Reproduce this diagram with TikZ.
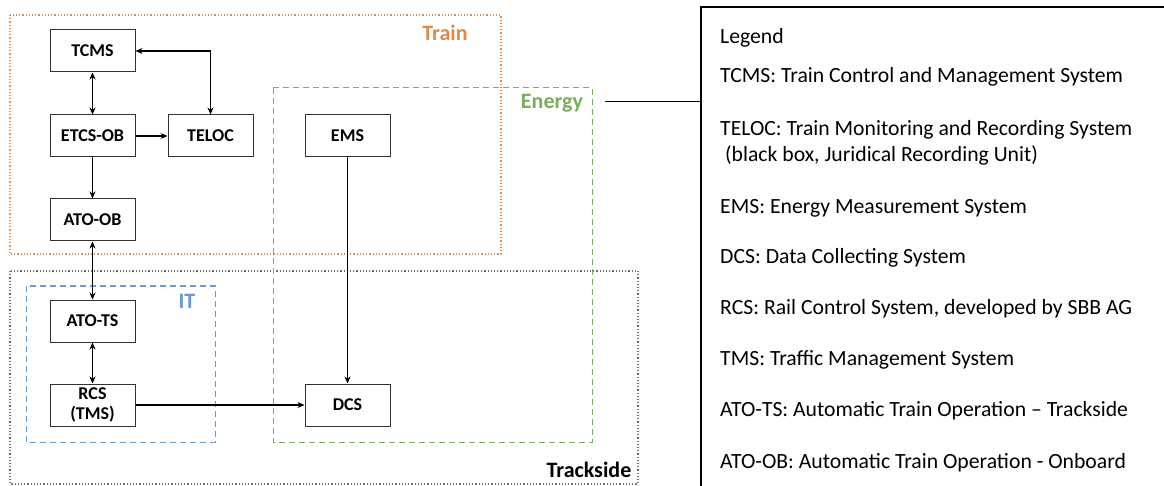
\documentclass[tikz,border=0pt]{standalone}
\usepackage{fontspec}
\setmainfont{Carlito}
\usetikzlibrary{arrows.meta}
\definecolor{trainc}{HTML}{E08A4A}
\definecolor{energyc}{HTML}{7AAE5A}
\definecolor{itc}{HTML}{6A9BCB}
\definecolor{trackc}{HTML}{707070}
\begin{document}
\begin{tikzpicture}[x=1pt,y=-1pt,
  sysbox/.style={draw=black!80, line width=1pt, minimum width=85pt, minimum height=42pt, inner sep=0pt, align=center, font=\fontsize{18}{19}\selectfont\bfseries},
  conn/.style={line width=1.1pt, -{Stealth[length=7pt,width=6pt]}},
  biconn/.style={line width=1.1pt, {Stealth[length=7pt,width=6pt]}-{Stealth[length=7pt,width=6pt]}},
  grouplbl/.style={font=\fontsize{22}{24}\selectfont\bfseries, inner sep=0pt},
  legtxt/.style={font=\fontsize{21.7}{24}\selectfont, anchor=west, inner sep=0pt, align=left}
]
\useasboundingbox (0,0) rectangle (1164,486);
% group frames
\draw[trainc, line width=1.2pt, dotted] (10,15) rectangle (501,254);
\draw[trackc, line width=1.2pt, dotted] (10,271) rectangle (638,484);
\draw[energyc, line width=1pt, dash pattern=on 6pt off 4pt] (273,88) rectangle (592,442);
\draw[itc, line width=1pt, dash pattern=on 6pt off 4pt] (26,286) rectangle (215,442);
\node[grouplbl, text=trainc] (ltrain) at (445,33) {Train};
\node[grouplbl, text=energyc] (lenergy) at (552,103) {Energy};
\node[grouplbl, text=itc] (lit) at (187,301) {IT};
\node[grouplbl, text=black] (ltrack) at (589,470) {Trackside};
% systems
\node[sysbox] (tcms) at (92.5,51) {TCMS};
\node[sysbox] (etcs) at (92.5,136) {ETCS-OB};
\node[sysbox] (teloc) at (210.5,136) {TELOC};
\node[sysbox] (ems) at (347.5,136) {EMS};
\node[sysbox] (atoob) at (92.5,220) {ATO-OB};
\node[sysbox] (atots) at (92.5,321) {ATO-TS};
\node[sysbox, font=\fontsize{18}{20}\selectfont\bfseries] (rcs) at (92.5,405) {RCS\\(TMS)};
\node[sysbox] (dcs) at (347.5,405) {DCS};
% connectors
\draw[biconn] (tcms.east) -| (teloc.north);
\draw[biconn] (tcms.south) -- (etcs.north);
\draw[conn] (etcs.east) -- (teloc.west);
\draw[conn] (etcs.south) -- (atoob.north);
\draw[biconn] (atoob.south) -- (atots.north);
\draw[biconn] (atots.south) -- (rcs.north);
\draw[conn] (rcs.east) -- (dcs.west);
\draw[conn] (ems.south) -- (dcs.north);
% legend
\coordinate (lgA) at (605,102);
\coordinate (lgB) at (701,102);
\draw[line width=1pt] (lgA) -- (lgB);
\draw[line width=1.4pt] (701,486) -- (701,7) -- (1164,7);
\node[legtxt] (lg0) at (720,38) {Legend};
\node[legtxt] (lg1) at (720,77) {TCMS: Train Control and Management System};
\node[legtxt] (lg2) at (720,130) {TELOC: Train Monitoring and Recording System};
\node[legtxt] (lg2b) at (720,155) {\ (black box, Juridical Recording Unit)};
\node[legtxt] (lg3) at (720,208) {EMS: Energy Measurement System};
\node[legtxt] (lg4) at (720,258) {DCS: Data Collecting System};
\node[legtxt] (lg5) at (720,309) {RCS: Rail Control System, developed by SBB AG};
\node[legtxt] (lg6) at (720,360) {TMS: Traffic Management System};
\node[legtxt] (lg7) at (720,411) {ATO-TS: Automatic Train Operation – Trackside};
\node[legtxt] (lg8) at (720,463) {ATO-OB: Automatic Train Operation - Onboard};
\end{tikzpicture}
\end{document}
